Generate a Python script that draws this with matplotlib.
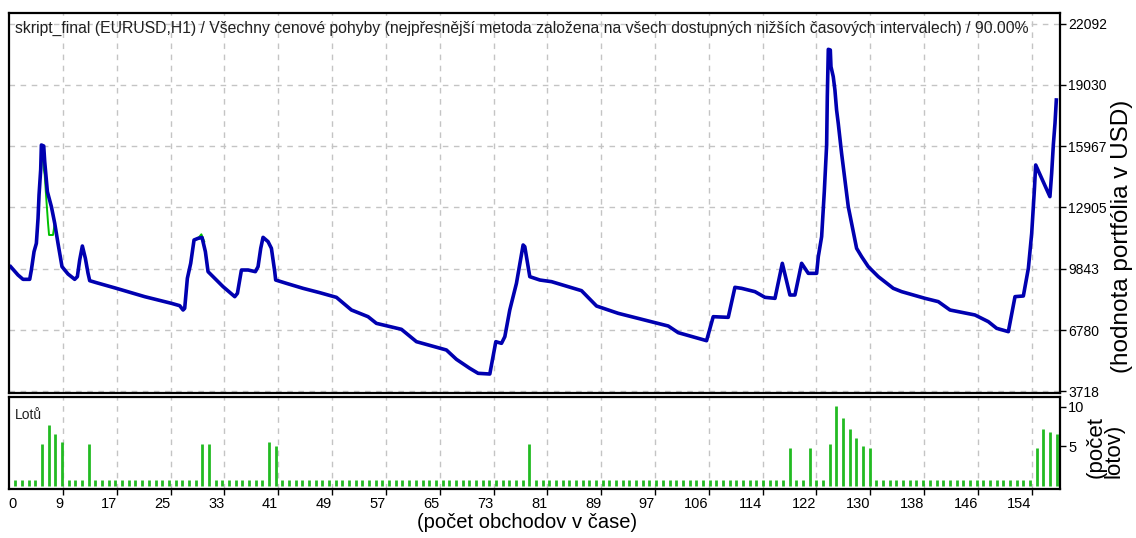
import matplotlib.pyplot as plt

# balance curve vertices (trade position, USD)
trade_t = [1.3, 2.4, 3.15, 4.15, 4.4, 4.8, 5.15, 5.4, 5.55, 5.8, 5.9, 6.25, 6.4, 6.8,
           7.4, 7.9, 8.39, 8.99, 9.89, 10.89, 11.29, 11.64, 12.04, 12.49, 12.89, 13.14,
           14.14, 17.14, 21.38, 25.38, 26.62, 27.13, 27.37, 27.77, 28.27, 28.77, 29.37,
           29.97, 30.47, 30.87, 31.62, 33.12, 34.87, 35.27, 35.87, 36.87, 37.96, 38.36,
           38.76, 39.11, 39.86, 40.36, 40.86, 41.0, 42.6, 45.1, 47.6, 50.1, 52.35, 54.84,
           56.09, 59.84, 62.09, 66.58, 68.08, 70.08, 71.33, 73.08, 73.98, 74.83, 75.33,
           76.07, 77.07, 78.07, 78.32, 79.07, 80.57, 82.33, 86.82, 89.07, 92.32, 99.81,
           101.31, 105.55, 106.55, 108.8, 109.8, 110.8, 112.8, 114.3, 115.8, 116.9,
           118.04, 118.79, 119.79, 120.79, 122.04, 122.29, 122.79, 123.19, 123.54, 123.64,
           123.79, 124.09, 124.19, 124.53, 124.78, 125.03, 125.28, 125.78, 126.28, 126.78,
           127.28, 128.03, 128.78, 129.78, 131.28, 133.52, 134.77, 138.27, 140.27, 142.02,
           145.76, 147.76, 149.01, 150.76, 151.76, 153.01, 153.76, 154.26, 154.66, 154.86,
           155.98, 156.99, 157.25, 157.5, 157.75, 157.95]
balance = [9945, 9528, 9312, 9312, 9778, 10694, 11110, 12359, 13525, 14807, 16023, 15973,
           15190, 13692, 12942, 12110, 11110, 9945, 9578, 9312, 9445, 10278, 10977, 10361,
           9612, 9245, 9145, 8862, 8446, 8113, 7996, 7780, 7863, 9362, 10111, 11277, 11360,
           11400, 10694, 9695, 9445, 8946, 8446, 8613, 9778, 9778, 9695, 9945, 10861, 11410,
           11194, 10861, 9695, 9278, 9112, 8862, 8646, 8412, 7780, 7446, 7113, 6814, 6197,
           5781, 5315, 4865, 4616, 4582, 6197, 6114, 6447, 7780, 9112, 11027, 10944, 9445,
           9278, 9195, 8745, 7979, 7613, 6980, 6647, 6247, 7446, 7413, 8912, 8862, 8696, 8412,
           8362, 10111, 8529, 8529, 10112, 9612, 9612, 10445, 11444, 13692, 16024, 18438,
           20803, 20770, 19937, 19438, 18772, 17772, 17106, 15607, 14275, 12943, 12110, 10861,
           10445, 9945, 9446, 8863, 8697, 8363, 8197, 7780, 7531, 7198, 6864, 6698, 8447, 8480,
           9862, 11611, 13776, 15025, 14192, 13443, 14608, 16024, 17106, 18272]

# equity where it leaves the balance line
equity_t = [5.9, 6.25, 6.4, 6.65, 6.9, 7.05, 7.64, 7.9, None, 29.37, 29.87, 30.3]
equity_v = [16023, 14857, 14524, 13275, 12110, 11527, 11527, 12110, None, 11360, 11560, 11200]

# lots per trade (trades 2..158)
lot_trades = list(range(2, 159))
lots = [0.8, 0.8, 0.8, 0.8, 5.3, 7.7, 6.6, 5.6, 0.8, 0.8, 0.8, 5.3, 0.8, 0.8, 0.8, 0.8,
        0.8, 0.8, 0.8, 0.8, 0.8, 0.8, 0.8, 0.8, 0.8, 0.8, 0.8, 0.8, 5.3, 5.3, 0.8, 0.8,
        0.8, 0.8, 0.8, 0.8, 0.8, 0.8, 5.6, 5.0, 0.8, 0.8, 0.8, 0.8, 0.8, 0.8, 0.8, 0.8,
        0.8, 0.8, 0.8, 0.8, 0.8, 0.8, 0.8, 0.8, 0.8, 0.8, 0.8, 0.8, 0.8, 0.8, 0.8, 0.8,
        0.8, 0.8, 0.8, 0.8, 0.8, 0.8, 0.8, 0.8, 0.8, 0.8, 0.8, 0.8, 0.8, 5.3, 0.8, 0.8,
        0.8, 0.8, 0.8, 0.8, 0.8, 0.8, 0.8, 0.8, 0.8, 0.8, 0.8, 0.8, 0.8, 0.8, 0.8, 0.8,
        0.8, 0.8, 0.8, 0.8, 0.8, 0.8, 0.8, 0.8, 0.8, 0.8, 0.8, 0.8, 0.8, 0.8, 0.8, 0.8,
        0.8, 0.8, 0.8, 0.8, 4.8, 0.8, 0.8, 4.8, 0.8, 0.8, 5.3, 10.1, 8.6, 7.2, 6.0, 5.0,
        4.8, 0.8, 0.8, 0.8, 0.8, 0.8, 0.8, 0.8, 0.8, 0.8, 0.8, 0.8, 0.8, 0.8, 0.8, 0.8,
        0.8, 0.8, 0.8, 0.8, 0.8, 0.8, 0.8, 0.8, 0.8, 4.8, 7.2, 6.8, 6.6]

y_ticks = [3718, 6780, 9843, 12905, 15967, 19030, 22092]
x_tick_pos = [9.14 + 8.062 * k for k in range(19)]
x_tick_labels = ["9", "17", "25", "33", "41", "49", "57", "65", "73", "81", "89",
                 "97", "106", "114", "122", "130", "138", "146", "154"]

title = ("skript_final (EURUSD,H1) / Všechny cenové pohyby (nejpřesnější metoda "
         "založena na všech dostupných nižších časových intervalech) / 90.00%")

plt.rcParams["font.family"] = ["Liberation Sans", "DejaVu Sans"]
GRID = dict(color="#c4c4c4", linestyle=(0, (4, 4)), linewidth=1.0)
W, H = 1136, 538

fig = plt.figure(figsize=(W / 100, H / 100), dpi=100)
ax = fig.add_axes([9 / W, 1 - 393 / H, 1051 / W, 380 / H])
ax2 = fig.add_axes([9 / W, 1 - 489 / H, 1051 / W, 92 / H])

for a in (ax, ax2):
    for s in a.spines.values():
        s.set_linewidth(1.6)
        s.set_color("black")
    a.set_xlim(1.05, 158.5)
    a.set_xticks(x_tick_pos)
    a.xaxis.grid(True, **GRID)
    a.yaxis.tick_right()
    a.set_axisbelow(True)

# main panel: balance (blue) over equity (green)
ax.plot(equity_t, equity_v, color="#00c000", lw=1.4)
ax.plot(trade_t, balance, color="#0000b0", lw=2.6)
ax.set_ylim(3633, 22618)
ax.set_yticks(y_ticks)
ax.set_yticklabels([str(v) for v in y_ticks])
ax.yaxis.grid(True, **GRID)
ax.tick_params(axis="x", length=0, labelbottom=False)
ax.tick_params(axis="y", length=4, width=1, labelsize=10, pad=2)
ax.text(0.006, 0.96, title, transform=ax.transAxes, fontsize=11.3,
        ha="left", va="center", color="#202020")

# lower panel: lots
ax2.vlines(lot_trades, 0, lots, color="#22bb22", lw=2)
ax2.set_ylim(-0.33, 11.2)
ax2.set_yticks([5, 10])
ax2.set_yticklabels(["5", "10"])
ax2.set_xticklabels(x_tick_labels)
ax2.set_xticks([2.2], minor=True)
ax2.set_xticklabels(["0"], minor=True)
ax2.tick_params(axis="x", which="minor", length=0, labelsize=10.5, pad=6)
ax2.tick_params(axis="x", which="major", length=4, width=1, labelsize=10.5, pad=2)
ax2.tick_params(axis="y", length=4, width=1, labelsize=10.5, pad=2)
for lab in ax2.get_xticklabels(which="both"):
    lab.set_ha("right")
ax2.text(0.006, 0.80, "Lotů", transform=ax2.transAxes, fontsize=10,
         ha="left", va="center", color="#202020")

fig.text(1122 / W, 1 - 236 / H, "(hodnota portfólia v USD)", rotation=90,
         fontsize=17.5, ha="center", va="center")
fig.text(1105 / W, 1 - 447 / H, "(počet\nlotov)", rotation=90, fontsize=16,
         ha="center", va="center", linespacing=0.75, multialignment="left")
fig.text(527 / W, 1 - 523 / H, "(počet obchodov v čase)", fontsize=14.5,
         ha="center", va="center")

fig.savefig("out.png", dpi=100, facecolor="white")
